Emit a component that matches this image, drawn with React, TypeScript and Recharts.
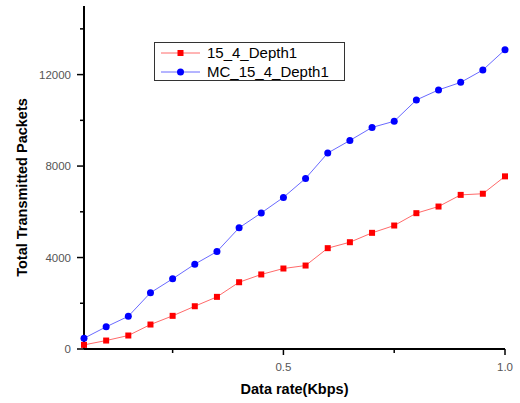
import { LineChart, Line, XAxis, YAxis } from "recharts";

const rates = [0.05, 0.1, 0.15, 0.2, 0.25, 0.3, 0.35, 0.4, 0.45, 0.5, 0.55, 0.6, 0.65, 0.7, 0.75, 0.8, 0.85, 0.9, 0.95, 1.0];
const depth1 = [180, 370, 590, 1070, 1450, 1870, 2280, 2920, 3260, 3520, 3650, 4410, 4670, 5080, 5400, 5940, 6230, 6740, 6790, 7550];
const mcDepth1 = [470, 970, 1430, 2460, 3070, 3710, 4260, 5300, 5950, 6630, 7460, 8570, 9120, 9690, 9960, 10890, 11330, 11660, 12200, 13090];

const xTicks = [0.25, 0.5, 0.75, 1.0];
const xMajor = [0.5, 1.0];
const yTicks = [0, 2000, 4000, 6000, 8000, 10000, 12000, 14000];
const yMajor = [0, 4000, 8000, 12000];

const series = [
  { key: "depth1", name: "15_4_Depth1", line: "#ff6a6a", mark: "#ff0000", shape: "square" },
  { key: "mc", name: "MC_15_4_Depth1", line: "#6a6aff", mark: "#0000ff", shape: "circle" },
];

const data = rates.map((rate, i) => ({ rate, depth1: depth1[i], mc: mcDepth1[i] }));

const XTick = (props: any) => {
  const { x, y, payload } = props;
  const major = xMajor.includes(payload.value);
  return (
    <g>
      <line x1={x} y1={y} x2={x} y2={y + (major ? 6 : 4)} stroke="#000" strokeWidth={1.5} />
      {major && (
        <text x={x} y={y + 22} textAnchor="middle" fill="#555" fontSize={11.5}>
          {payload.value.toFixed(1)}
        </text>
      )}
    </g>
  );
};

const YTick = (props: any) => {
  const { x, y, payload } = props;
  const major = yMajor.includes(payload.value);
  return (
    <g>
      <line x1={x - (major ? 7 : 4)} y1={y} x2={x} y2={y} stroke="#000" strokeWidth={1.5} />
      {major && (
        <text x={x - 13} y={y + 4} textAnchor="end" fill="#555" fontSize={11.5}>
          {payload.value}
        </text>
      )}
    </g>
  );
};

const Marker = (props: any, shape: string, color: string) => {
  const { cx, cy, index } = props;
  if (shape === "square") {
    return <rect key={index} x={cx - 3} y={cy - 3} width={6} height={6} fill={color} />;
  }
  return <circle key={index} cx={cx} cy={cy} r={3.5} fill={color} />;
};

const App = () => {
  return (
    <div
      style={{
        position: "absolute",
        left: 0,
        top: 0,
        width: 520,
        height: 403,
        background: "#fff",
        fontFamily: "'Liberation Sans', Arial, sans-serif",
      }}
    >
      <LineChart width={520} height={403} data={data} margin={{ top: 6, right: 15, bottom: 0, left: 0 }}>
        <XAxis
          dataKey="rate"
          type="number"
          domain={[0.05, 1]}
          ticks={xTicks}
          height={54}
          tickSize={0}
          tickMargin={0}
          tickLine={false}
          tick={<XTick />}
          axisLine={{ stroke: "#000", strokeWidth: 2 }}
          label={{
            content: ({ viewBox }: any) => (
              <text
                x={viewBox.x + viewBox.width / 2}
                y={viewBox.y + 45}
                textAnchor="middle"
                fontWeight="bold"
                fontSize={14.5}
                fill="#000"
              >
                Data rate(Kbps)
              </text>
            ),
          }}
        />
        <YAxis
          type="number"
          domain={[0, 15000]}
          ticks={yTicks}
          width={84}
          tickSize={0}
          tickMargin={0}
          tickLine={false}
          tick={<YTick />}
          axisLine={{ stroke: "#000", strokeWidth: 2 }}
          label={{
            content: ({ viewBox }: any) => {
              const cx = viewBox.x + 27;
              const cy = viewBox.y + viewBox.height / 2 + 10;
              return (
                <text
                  x={cx}
                  y={cy}
                  transform={`rotate(-90 ${cx} ${cy})`}
                  textAnchor="middle"
                  fontWeight="bold"
                  fontSize={14.5}
                  fill="#000"
                >
                  Total Transmitted Packets
                </text>
              );
            },
          }}
        />
        {series.map((s) => (
          <Line
            key={s.key}
            dataKey={s.key}
            name={s.name}
            stroke={s.line}
            strokeWidth={1}
            isAnimationActive={false}
            dot={(p: any) => Marker(p, s.shape, s.mark)}
          />
        ))}
      </LineChart>
      <div
        style={{
          position: "absolute",
          left: 154,
          top: 42,
          width: 189,
          height: 37,
          border: "1px solid #333",
          background: "#fff",
        }}
      >
        {series.map((s, i) => (
          <div
            key={s.key}
            style={{ position: "absolute", left: 0, top: 1 + i * 19, height: 18, display: "flex", alignItems: "center" }}
          >
            <svg width={48} height={18} style={{ display: "block" }}>
              <line x1={6} y1={9} x2={45} y2={9} stroke={s.line} strokeWidth={1} />
              {s.shape === "square" ? (
                <rect x={22.5} y={6} width={6} height={6} fill={s.mark} />
              ) : (
                <circle cx={25.5} cy={9} r={3.5} fill={s.mark} />
              )}
            </svg>
            <span style={{ fontSize: 15, color: "#000", marginLeft: 4, lineHeight: "18px" }}>{s.name}</span>
          </div>
        ))}
      </div>
    </div>
  );
};

export default App;
